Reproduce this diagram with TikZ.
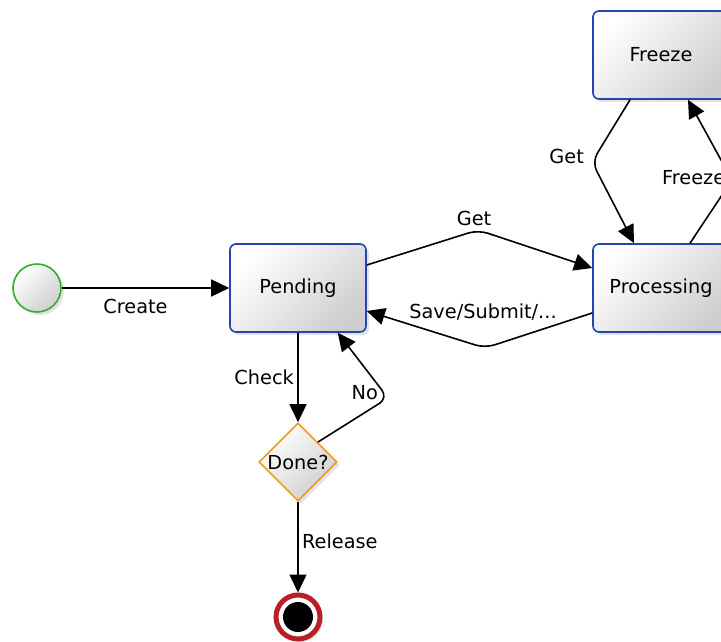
\documentclass[tikz,border=0pt]{standalone}
\usepackage{fontspec}
\setmainfont{DejaVu Sans}
\usepackage{tikz}
\usetikzlibrary{shapes.geometric, arrows.meta, positioning, shadows}
\definecolor{stateblue}{HTML}{2445B0}
\definecolor{startgreen}{HTML}{30B02A}
\definecolor{choiceorange}{HTML}{EE9A20}
\definecolor{endred}{HTML}{B82025}
\tikzstyle{arrow} = [line width=1.6pt, -{Triangle[length=18pt,width=17pt]}, rounded corners=10pt]

\begin{document}
\begin{tikzpicture}
	[x=1pt, y=-1pt, font=\fontsize{19.3}{23}\selectfont,
	gloss/.style={top color=white, bottom color=black!19, shading angle=45,
		drop shadow={shadow xshift=3pt, shadow yshift=-3pt, opacity=0.22}},
	state/.style={gloss, rectangle, rounded corners=6pt, draw=stateblue, line width=1.6pt,
		minimum width=136pt, minimum height=88pt},
	choice/.style={gloss, diamond, aspect=1, draw=choiceorange, line width=1.6pt,
		minimum size=78pt, inner sep=0pt},
	initial/.style={gloss, circle, draw=startgreen, line width=1.6pt, minimum size=48pt},
	final/.style={circle, draw=endred, fill=white, line width=5pt, minimum size=44pt,
		drop shadow={shadow xshift=3pt, shadow yshift=-3pt, opacity=0.22}}]
	\useasboundingbox (0,0) rectangle (721,642);
	\clip (0,0) rectangle (721,642);

	\node[initial] (start) at (37,288) {};
	\node[state] (pending) at (298,288) {Pending};
	\node[state] (processing) at (661,288) {Processing};
	\node[state] (freeze) at (661,55) {Freeze};
	\node[choice] (done) at (298,462) {Done?};
	\node[final] (end) at (298,617) {};
	\node[circle, fill=black, minimum size=30pt] (enddot) at (end) {};

	\coordinate (getbend) at (478,230);
	\coordinate (savebend) at (485,348);
	\coordinate (nobend) at (388,398);
	\coordinate (backbend) at (592,162);
	\coordinate (freezebend) at (732,180);

	\draw[arrow] (start) -- node[below=7pt, pos=0.44] {Create} (pending);
	\draw[arrow] ([yshift=23pt]pending.east) -- (getbend) node[above=0pt, xshift=-4pt] {Get}
		-- ([yshift=20pt]processing.west);
	\draw[arrow] ([yshift=-25pt]processing.west) -- (savebend) node[above=24pt, xshift=-2pt] {Save/Submit/...}
		-- ([yshift=-23pt]pending.east);
	\draw[arrow] (pending) -- node[left=0pt] {Check} (done);
	\draw[arrow] (done.north east) -- (nobend) node[left=6pt, yshift=5pt] {No}
		-- ([xshift=-29pt]pending.south east);
	\draw[arrow] (done) -- node[right=0pt, pos=0.43] {Release} (end);
	\draw[arrow] ([xshift=-31pt]freeze.south) -- (backbend) node[left=4pt, yshift=6pt] {Get}
		-- ([xshift=-27pt]processing.north);
	\draw[arrow] ([xshift=29pt]processing.north) -- (freezebend) node[left=4pt, yshift=2pt, fill=white, inner sep=2pt] {Freeze}
		-- ([xshift=27pt]freeze.south);
\end{tikzpicture}
\end{document}
